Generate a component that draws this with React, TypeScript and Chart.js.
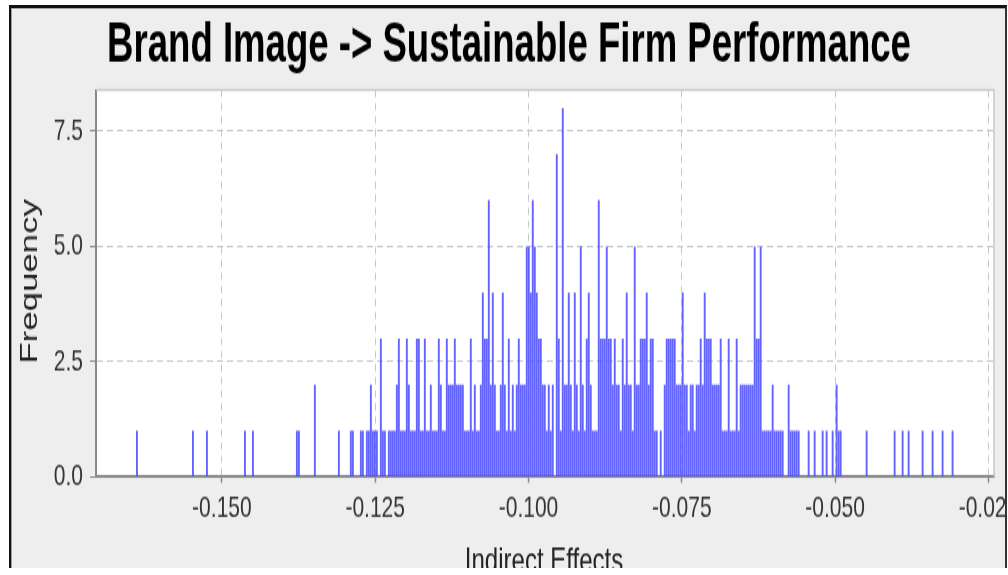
import React, { useEffect, useRef } from 'react';
import { Chart, registerables } from 'chart.js';

Chart.register(...registerables);

// ---- text ----
const TITLE = 'Brand Image -> Sustainable Firm Performance';
const X_TITLE = 'Indirect Effects';
const Y_TITLE = 'Frequency';

// ---- histogram data (bin centre of first bin, bin width, counts per bin) ----
const binStart = -0.16385;
const binWidth = 0.000326;
const frequency = [
  1, 0, 0, 0, 0, 0, 0, 0, 0, 0,
  0, 0, 0, 0, 0, 0, 0, 0, 0, 0,
  0, 0, 0, 0, 0, 0, 0, 0, 1, 0,
  0, 0, 0, 0, 0, 1, 0, 0, 0, 0,
  0, 0, 0, 0, 0, 0, 0, 0, 0, 0,
  0, 0, 0, 0, 1, 0, 0, 0, 1, 0,
  0, 0, 0, 0, 0, 0, 0, 0, 0, 0,
  0, 0, 0, 0, 0, 0, 0, 0, 0, 0,
  1, 1, 0, 0, 0, 0, 0, 0, 0, 2,
  0, 0, 0, 0, 0, 0, 0, 0, 0, 0,
  0, 1, 0, 0, 0, 0, 0, 1, 1, 0,
  0, 0, 1, 1, 0, 1, 1, 2, 1, 1,
  1, 0, 3, 1, 1, 0, 1, 1, 1, 1,
  2, 3, 1, 1, 1, 3, 2, 1, 1, 1,
  3, 3, 1, 1, 3, 1, 1, 2, 1, 1,
  1, 3, 2, 1, 1, 3, 2, 2, 2, 3,
  2, 2, 2, 2, 1, 1, 1, 3, 1, 2,
  1, 1, 2, 4, 3, 3, 6, 2, 4, 2,
  1, 1, 2, 4, 2, 1, 3, 1, 2, 1,
  2, 3, 2, 2, 2, 5, 5, 4, 6, 5,
  4, 3, 3, 2, 2, 1, 2, 1, 2, 0,
  7, 3, 1, 8, 2, 2, 4, 2, 1, 4,
  2, 1, 5, 2, 1, 3, 4, 2, 1, 1,
  1, 6, 3, 3, 3, 5, 3, 3, 2, 3,
  2, 2, 1, 3, 2, 4, 2, 2, 1, 5,
  2, 2, 3, 3, 3, 4, 2, 3, 3, 1,
  1, 0, 1, 0, 2, 3, 3, 3, 3, 3,
  2, 2, 2, 4, 2, 2, 1, 2, 2, 1,
  2, 2, 3, 2, 4, 3, 3, 3, 2, 2,
  2, 2, 3, 1, 1, 1, 3, 1, 1, 1,
  3, 1, 2, 2, 2, 2, 2, 2, 2, 5,
  3, 3, 5, 1, 1, 1, 1, 1, 2, 1,
  1, 1, 1, 1, 0, 0, 2, 1, 1, 1,
  1, 1, 0, 0, 0, 0, 1, 0, 0, 1,
  0, 0, 0, 1, 0, 1, 0, 0, 1, 0,
  2, 1, 1, 0, 0, 0, 0, 0, 0, 0,
  0, 0, 0, 0, 0, 1, 0, 0, 0, 0,
  0, 0, 0, 0, 0, 0, 0, 0, 0, 1,
  0, 0, 0, 1, 0, 0, 1, 0, 0, 0,
  0, 0, 0, 1, 0, 0, 0, 0, 1, 0,
  0, 0, 0, 1, 0, 0, 0, 0, 1,
];

// ---- axes ----
const xTickValues = [-0.15, -0.125, -0.1, -0.075, -0.05, -0.025];
const yTickValues = [0, 2.5, 5, 7.5];
const xMin = -0.17053;
const xMax = -0.02409;
const yMin = 0;
const yMax = 8.39;

// ---- layout (unscaled canvas units) ----
const S = 1.45; // vertical stretch of the picture
const W = 1019;
const H = 400;
const FONT = '"Liberation Sans", Arial, Helvetica, sans-serif';

const textPlugin = {
  id: 'texts',
  beforeDraw(chart: any) {
    const { ctx, chartArea: a } = chart;
    ctx.save();
    ctx.fillStyle = '#ffffff';
    ctx.fillRect(a.left, a.top, a.right - a.left, a.bottom - a.top);
    ctx.restore();
  },
  beforeDatasetsDraw(chart: any) {
    const { ctx, chartArea: a } = chart;
    ctx.save();
    ctx.strokeStyle = '#c8c8c8';
    ctx.lineWidth = 1.5;
    ctx.beginPath();
    ctx.moveTo(a.left, a.top);
    ctx.lineTo(a.right, a.top);
    ctx.lineTo(a.right, a.bottom);
    ctx.stroke();
    ctx.restore();
  },
  afterDraw(chart: any) {
    const ctx = chart.ctx;
    // main title
    ctx.save();
    ctx.fillStyle = '#000';
    ctx.font = `bold 38.5px ${FONT}`;
    ctx.textAlign = 'center';
    ctx.textBaseline = 'alphabetic';
    ctx.translate(498, 37.2);
    ctx.scale(0.95, 1);
    ctx.fillText(TITLE, 0, 0);
    ctx.restore();
    // y title
    ctx.save();
    ctx.fillStyle = '#222';
    ctx.font = `24px ${FONT}`;
    ctx.textAlign = 'center';
    ctx.textBaseline = 'alphabetic';
    ctx.translate(26, 188.5);
    ctx.rotate(-Math.PI / 2);
    ctx.fillText(Y_TITLE, 0, 0);
    ctx.restore();
    // x title
    ctx.save();
    ctx.fillStyle = '#222';
    ctx.font = `24px ${FONT}`;
    ctx.textAlign = 'center';
    ctx.textBaseline = 'alphabetic';
    ctx.fillText(X_TITLE, 533, 388.9);
    ctx.restore();
  },
};

export default function App() {
  const ref = useRef<HTMLCanvasElement>(null);

  useEffect(() => {
    const canvas = ref.current;
    if (!canvas) return;
    const points = frequency.map((f, i) => ({ x: binStart + i * binWidth, y: f }));
    const chart = new Chart(canvas, {
      type: 'bar',
      data: {
        datasets: [
          {
            label: Y_TITLE,
            data: points as any,
            backgroundColor: 'rgba(82,82,255,0.9)',
            borderWidth: 0,
            categoryPercentage: 1,
            barPercentage: 0.95,
          },
        ],
      },
      options: {
        animation: false,
        responsive: false,
        maintainAspectRatio: false,
        devicePixelRatio: 1,
        layout: { padding: { top: 56.6, left: 0, right: 36, bottom: 0 } },
        plugins: {
          legend: { display: false },
          tooltip: { enabled: false },
          title: { display: false },
        },
        scales: {
          x: {
            type: 'linear',
            min: xMin,
            max: xMax,
            offset: false,
            afterBuildTicks: (scale: any) => {
              scale.ticks = xTickValues.map((v) => ({ value: v }));
            },
            afterFit: (scale: any) => {
              scale.height = H - 323.4;
            },
            ticks: {
              color: '#333',
              font: { family: FONT, size: 21 },
              padding: 5,
              maxRotation: 0,
              autoSkip: false,
              callback: (v: any) => Number(v).toFixed(3),
            },
            grid: {
              color: '#c6c6c6',
              lineWidth: 1,
              offset: false,
              drawTicks: true,
              tickLength: 4,
              tickColor: '#8a8a8a',
              tickWidth: 1.5,
            },
            border: { display: true, color: '#8a8a8a', width: 2, dash: [5, 4] },
          },
          y: {
            type: 'linear',
            min: yMin,
            max: yMax,
            afterBuildTicks: (scale: any) => {
              scale.ticks = yTickValues.map((v) => ({ value: v }));
            },
            afterFit: (scale: any) => {
              scale.width = 85;
            },
            ticks: {
              color: '#333',
              font: { family: FONT, size: 21 },
              padding: 7,
              callback: (v: any) => Number(v).toFixed(1),
            },
            grid: {
              color: '#c6c6c6',
              lineWidth: 1,
              drawTicks: true,
              tickLength: 6,
              tickColor: '#8a8a8a',
              tickWidth: 1,
            },
            border: { display: true, color: '#8a8a8a', width: 2, dash: [6, 4] },
          },
        },
      },
      plugins: [textPlugin],
    });
    return () => chart.destroy();
  }, []);

  return (
    <div
      style={{
        position: 'absolute',
        left: 0,
        top: 0,
        width: 1008,
        height: 575,
        background: '#ffffff',
        overflow: 'hidden',
      }}
    >
      <div
        style={{
          position: 'absolute',
          left: 9,
          top: 5,
          width: 998,
          height: 563,
          boxSizing: 'border-box',
          borderTop: '3px solid #111',
          borderLeft: '2px solid #111',
          borderRight: '2px solid #333',
          background: '#eeeeee',
          boxShadow: 'inset 1px 1px 0 #a0a0a0',
          overflow: 'hidden',
        }}
      >
        <div
          style={{
            position: 'absolute',
            left: 0,
            top: 0,
            width: W,
            height: H,
            transform: `scaleY(${S})`,
            transformOrigin: '0 0',
          }}
        >
          <canvas ref={ref} width={W} height={H} style={{ display: 'block', width: W, height: H }} />
        </div>
      </div>
    </div>
  );
}
